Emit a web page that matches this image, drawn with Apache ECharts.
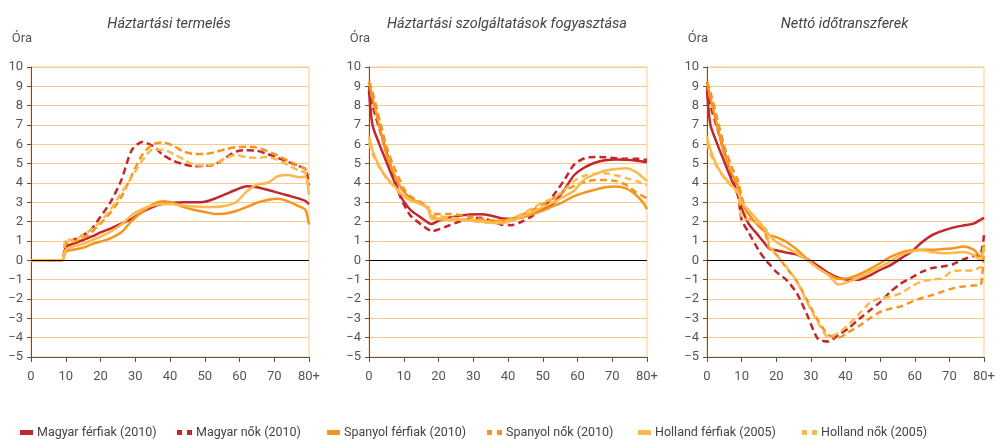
<!DOCTYPE html>
<html>
<head>
<meta charset="utf-8">
<script src="https://cdn.jsdelivr.net/npm/echarts@6/dist/echarts.min.js"></script>
<style>
  html, body { margin: 0; padding: 0; background: #ffffff; }
  #chart { width: 1000px; height: 440px; }
</style>
</head>
<body>
<div id="chart"></div>
<script>
// age (years), last point = 80+
const ages = [0, 1, 3, 5, 7, 9, 10, 12, 15, 17, 18, 20, 23, 26, 29, 32, 35, 38, 41, 44, 47, 50, 53, 56, 59, 62, 65, 68, 71, 74, 77, 79, 80];

const panelTitles = ['Háztartási termelés', 'Háztartási szolgáltatások fogyasztása', 'Nettó időtranszferek'];
const seriesNames = ['Magyar férfiak (2010)', 'Magyar nők (2010)', 'Spanyol férfiak (2010)', 'Spanyol nők (2010)', 'Holland férfiak (2005)', 'Holland nők (2005)'];
const yTicks = [-5, 10];
const xTicks = [0, 80];

// Háztartási termelés
const prodHuM = [0, 0, 0, 0, 0, 0, 0.7, 0.85, 1.05, 1.2, 1.27, 1.45, 1.65, 1.9, 2.15, 2.5, 2.76, 2.92, 2.98, 3.0, 3.0, 3.03, 3.2, 3.42, 3.65, 3.83, 3.78, 3.65, 3.5, 3.35, 3.2, 3.07, 2.9];
const prodHuF = [0, 0, 0, 0, 0, 0, 0.95, 1.05, 1.3, 1.55, 1.75, 2.25, 3.05, 4.15, 5.7, 6.12, 5.92, 5.45, 5.15, 4.97, 4.87, 4.88, 4.97, 5.3, 5.62, 5.7, 5.67, 5.5, 5.3, 5.09, 4.88, 4.72, 3.9];
const prodEsM = [0, 0, 0, 0, 0, 0, 0.45, 0.55, 0.65, 0.8, 0.87, 0.97, 1.15, 1.45, 2.05, 2.5, 2.9, 3.05, 2.95, 2.75, 2.6, 2.5, 2.4, 2.42, 2.55, 2.75, 2.98, 3.12, 3.18, 3.05, 2.8, 2.6, 1.85];
const prodEsF = [0, 0, 0, 0, 0, 0, 0.85, 0.95, 1.15, 1.4, 1.55, 1.9, 2.5, 3.28, 4.4, 5.45, 6.0, 6.1, 5.92, 5.62, 5.5, 5.5, 5.6, 5.75, 5.85, 5.88, 5.83, 5.65, 5.42, 5.14, 4.9, 4.7, 4.4];
const prodNlM = [0, 0, 0, 0, 0, 0, 0.55, 0.7, 0.85, 1.0, 1.08, 1.22, 1.5, 1.85, 2.35, 2.65, 2.84, 2.92, 2.9, 2.82, 2.78, 2.76, 2.76, 2.82, 3.0, 3.55, 3.92, 4.0, 4.35, 4.42, 4.3, 4.32, 3.4];
const prodNlF = [0, 0, 0, 0, 0, 0, 1.1, 1.02, 1.3, 1.55, 1.7, 2.0, 2.65, 3.5, 4.3, 5.15, 5.72, 5.72, 5.5, 5.22, 4.93, 4.9, 5.0, 5.28, 5.45, 5.33, 5.3, 5.35, 5.2, 4.92, 4.66, 4.5, 3.45];

// Háztartási szolgáltatások fogyasztása
const servHuM = [8.8, 7.0, 6.0, 5.1, 4.2, 3.35, 3.05, 2.6, 2.2, 1.95, 1.88, 2.05, 2.2, 2.3, 2.37, 2.38, 2.32, 2.18, 2.15, 2.22, 2.48, 2.69, 2.95, 3.6, 4.4, 4.8, 5.05, 5.18, 5.22, 5.2, 5.15, 5.1, 5.08];
const servHuF = [9.0, 8.0, 6.8, 5.6, 4.4, 3.3, 2.9, 2.3, 1.85, 1.6, 1.5, 1.6, 1.8, 2.0, 2.15, 2.2, 2.05, 1.85, 1.82, 2.0, 2.3, 2.7, 3.35, 4.1, 4.95, 5.28, 5.35, 5.33, 5.28, 5.25, 5.25, 5.22, 5.2];
const servEsM = [9.2, 8.4, 6.9, 5.5, 4.55, 3.8, 3.55, 3.2, 2.95, 2.65, 2.2, 2.15, 2.12, 2.1, 2.08, 2.05, 2.02, 2.05, 2.1, 2.22, 2.38, 2.57, 2.8, 3.03, 3.32, 3.5, 3.65, 3.78, 3.82, 3.72, 3.35, 2.95, 2.65];
const servEsF = [9.25, 8.7, 7.3, 5.9, 4.9, 4.1, 3.7, 3.3, 3.0, 2.75, 2.4, 2.4, 2.4, 2.35, 2.25, 2.15, 2.08, 2.05, 2.15, 2.35, 2.6, 2.9, 3.2, 3.55, 3.85, 4.05, 4.15, 4.15, 4.1, 3.9, 3.5, 3.3, 3.2];
const servNlM = [6.4, 5.7, 4.85, 4.3, 3.9, 3.5, 3.35, 3.12, 2.9, 2.7, 2.15, 2.12, 2.1, 2.1, 2.1, 2.02, 1.95, 1.92, 2.05, 2.25, 2.5, 2.74, 3.0, 3.29, 3.6, 4.2, 4.45, 4.65, 4.72, 4.76, 4.55, 4.25, 4.1];
const servNlF = [6.1, 5.5, 4.8, 4.25, 3.85, 3.45, 3.3, 3.1, 2.9, 2.7, 2.3, 2.28, 2.22, 2.15, 2.05, 1.98, 1.95, 2.0, 2.15, 2.4, 2.7, 3.0, 3.2, 3.6, 4.1, 4.38, 4.48, 4.5, 4.4, 4.25, 4.1, 3.95, 3.9];

// Nettó időtranszferek
const netHuM = [8.8, 7.0, 6.0, 5.1, 4.2, 3.35, 2.7, 1.9, 1.25, 0.8, 0.6, 0.52, 0.4, 0.3, 0.05, -0.28, -0.65, -0.9, -1.0, -1.0, -0.78, -0.5, -0.25, 0.1, 0.45, 0.92, 1.3, 1.52, 1.69, 1.8, 1.9, 2.1, 2.2];
const netHuF = [9.0, 8.0, 6.8, 5.6, 4.4, 3.3, 2.1, 1.45, 0.5, 0.0, -0.2, -0.6, -1.02, -1.72, -2.85, -4.05, -4.2, -3.85, -3.5, -3.02, -2.6, -2.16, -1.62, -1.2, -0.9, -0.6, -0.4, -0.32, -0.2, 0.05, 0.22, 0.3, 1.3];
const netEsM = [9.2, 8.4, 6.9, 5.5, 4.55, 3.8, 3.0, 2.4, 1.75, 1.45, 1.3, 1.2, 0.95, 0.55, 0.05, -0.38, -0.72, -0.95, -0.92, -0.72, -0.45, -0.15, 0.18, 0.4, 0.52, 0.55, 0.55, 0.58, 0.62, 0.72, 0.55, 0.2, 0.78];
const netEsF = [9.25, 8.7, 7.3, 5.9, 4.9, 4.1, 3.3, 2.3, 1.8, 1.3, 0.6, 0.3, -0.4, -1.1, -2.1, -3.1, -3.85, -4.0, -3.7, -3.38, -3.0, -2.67, -2.5, -2.38, -2.15, -1.95, -1.8, -1.62, -1.45, -1.35, -1.3, -1.28, 0.8];
const netNlM = [6.4, 5.7, 4.85, 4.3, 3.9, 3.5, 3.0, 2.6, 2.0, 1.55, 1.3, 0.95, 0.65, 0.35, 0.0, -0.4, -0.75, -1.25, -1.1, -0.88, -0.6, -0.34, -0.05, 0.28, 0.45, 0.52, 0.43, 0.36, 0.38, 0.43, 0.28, 0.0, 0.7];
const netNlF = [6.1, 5.5, 4.8, 4.25, 3.85, 3.45, 2.2, 2.1, 1.9, 1.6, 0.8, 0.3, -0.35, -1.1, -2.2, -3.2, -3.95, -3.75, -3.3, -2.76, -2.2, -1.95, -1.88, -1.7, -1.35, -1.1, -1.0, -0.92, -0.55, -0.52, -0.52, -0.36, -0.4];

const panels = [
  [prodHuM, prodHuF, prodEsM, prodEsF, prodNlM, prodNlF],
  [servHuM, servHuF, servEsM, servEsF, servNlM, servNlF],
  [netHuM, netHuF, netEsM, netEsF, netNlM, netNlF]
];

const red = '#c1272d';
const orange = '#f7941d';
const yellow = '#fdb94e';
const seriesColors = [red, red, orange, orange, yellow, yellow];
const dashed = [false, true, false, true, false, true];

const gridLeft = [31, 369, 707];
const gridWidth = [278, 278, 277];
const legendLeft = [15, 172, 322, 482, 633, 797];
const font = 'Roboto, "DejaVu Sans", sans-serif';
const textColor = '#555555';
const gridColor = '#fbc98c';

const minus = v => (v < 0 ? '\u2212' + Math.abs(v) : String(v));

const chart = echarts.init(document.getElementById('chart'), null, { renderer: 'canvas' });

const grids = [], xAxes = [], yAxes = [], titles = [], series = [];

panels.forEach((panel, p) => {
  grids.push({
    left: gridLeft[p], top: 67, width: gridWidth[p], height: 290,
    show: true, borderColor: gridColor, borderWidth: 1, backgroundColor: 'transparent'
  });
  titles.push({
    text: panelTitles[p],
    left: gridLeft[p] + gridWidth[p] / 2 - 6,
    top: 12,
    textAlign: 'center',
    textStyle: { fontFamily: font, fontSize: 14.5, fontStyle: 'italic', fontWeight: 'normal', color: '#444' }
  });
  xAxes.push({
    type: 'value', gridIndex: p, min: xTicks[0], max: xTicks[1], interval: 10,
    axisLine: { onZero: false, lineStyle: { color: '#555', width: 1 } },
    axisTick: { show: true, length: 5, lineStyle: { color: '#555' } },
    axisLabel: {
      margin: 13, fontFamily: font, fontSize: 13, color: textColor,
      formatter: v => (v === 80 ? '80+' : String(v))
    },
    splitLine: { show: false }
  });
  yAxes.push({
    type: 'value', gridIndex: p, min: yTicks[0], max: yTicks[1], interval: 1,
    name: 'Óra', nameLocation: 'end', nameGap: 22,
    nameTextStyle: { fontFamily: font, fontSize: 13, color: textColor, align: 'right', padding: [0, -1, 0, 0] },
    axisLine: { show: true, lineStyle: { color: '#555', width: 1 } },
    axisTick: { show: true, length: 4, lineStyle: { color: '#555' } },
    axisLabel: { margin: 8, fontFamily: font, fontSize: 13, color: textColor, formatter: minus },
    splitLine: { show: true, lineStyle: { color: gridColor, width: 1 } }
  });

  // zero reference line under the curves
  series.push({
    type: 'line', name: 'zero' + p, xAxisIndex: p, yAxisIndex: p, data: [], z: 1, silent: true,
    markLine: {
      silent: true, symbol: 'none', label: { show: false },
      lineStyle: { color: '#000', width: 1, type: 'solid' },
      data: [{ yAxis: 0 }]
    }
  });

  panel.forEach((vals, s) => {
    series.push({
      type: 'line',
      name: seriesNames[s],
      xAxisIndex: p, yAxisIndex: p,
      data: ages.map((a, i) => [a, vals[i]]),
      showSymbol: false,
      smooth: 0.25,
      z: 3,
      itemStyle: { color: seriesColors[s] },
      lineStyle: { color: seriesColors[s], width: 2.5, type: dashed[s] ? [7, 4] : 'solid' }
    });
  });
});

const legends = seriesNames.map((name, s) => ({
  left: legendLeft[s], top: 421,
  itemWidth: dashed[s] ? 15 : 13, itemHeight: 5,
  itemGap: 0,
  textStyle: { fontFamily: font, fontSize: 12.5, color: '#444', padding: [0, 0, 0, -1] },
  data: [{ name, icon: dashed[s] ? 'path://M0,0H5V5H0Z M10,0H15V5H10Z' : 'rect' }]
}));

chart.setOption({
  animation: false,
  backgroundColor: '#ffffff',
  title: titles,
  legend: legends,
  grid: grids,
  xAxis: xAxes,
  yAxis: yAxes,
  series
});
</script>
</body>
</html>
